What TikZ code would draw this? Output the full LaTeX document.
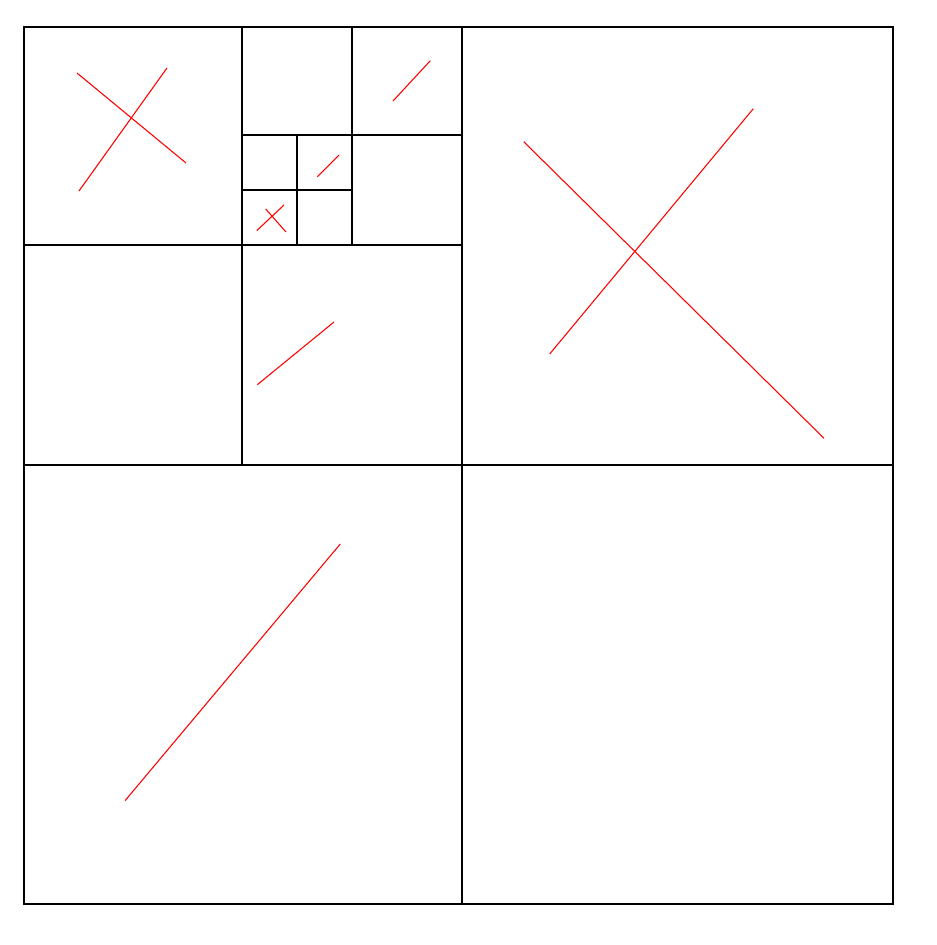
\documentclass[tikz,border=0pt]{standalone}
\begin{document}
\begin{tikzpicture}[x=0.75pt,y=-0.75pt,
  cell/.style={draw=black,line width=1.1pt},
  seg/.style={draw=red,line width=0.8pt}]
\useasboundingbox (0,0) rectangle (937,945);
\fill[white] (0,0) rectangle (937,945);
% outer square and quadrants
\draw[cell] (24,27) rectangle (893,904);
\draw[cell] (462,27) -- (462,904);
\draw[cell] (24,465) -- (893,465);
% top-left quadrant subdivision
\draw[cell] (242,27) -- (242,465);
\draw[cell] (24,245) -- (462,245);
% top-right of top-left quadrant subdivision
\draw[cell] (352,27) -- (352,245);
\draw[cell] (242,135) -- (462,135);
% further subdivision
\draw[cell] (297,135) -- (297,245);
\draw[cell] (242,190) -- (352,190);
% red segments
\draw[seg] (77,73) -- (186,163);
\draw[seg] (167,68) -- (79,191);
\draw[seg] (265.7,209) -- (286,232);
\draw[seg] (284,205) -- (256.7,230.7);
\draw[seg] (317.3,176.7) -- (339,155);
\draw[seg] (393,101) -- (430.3,60.7);
\draw[seg] (257.3,384.7) -- (334,322);
\draw[seg] (523.7,141.7) -- (824,438.3);
\draw[seg] (753.3,108.7) -- (549.7,354);
\draw[seg] (125,800.7) -- (340.3,544);
\end{tikzpicture}
\end{document}
